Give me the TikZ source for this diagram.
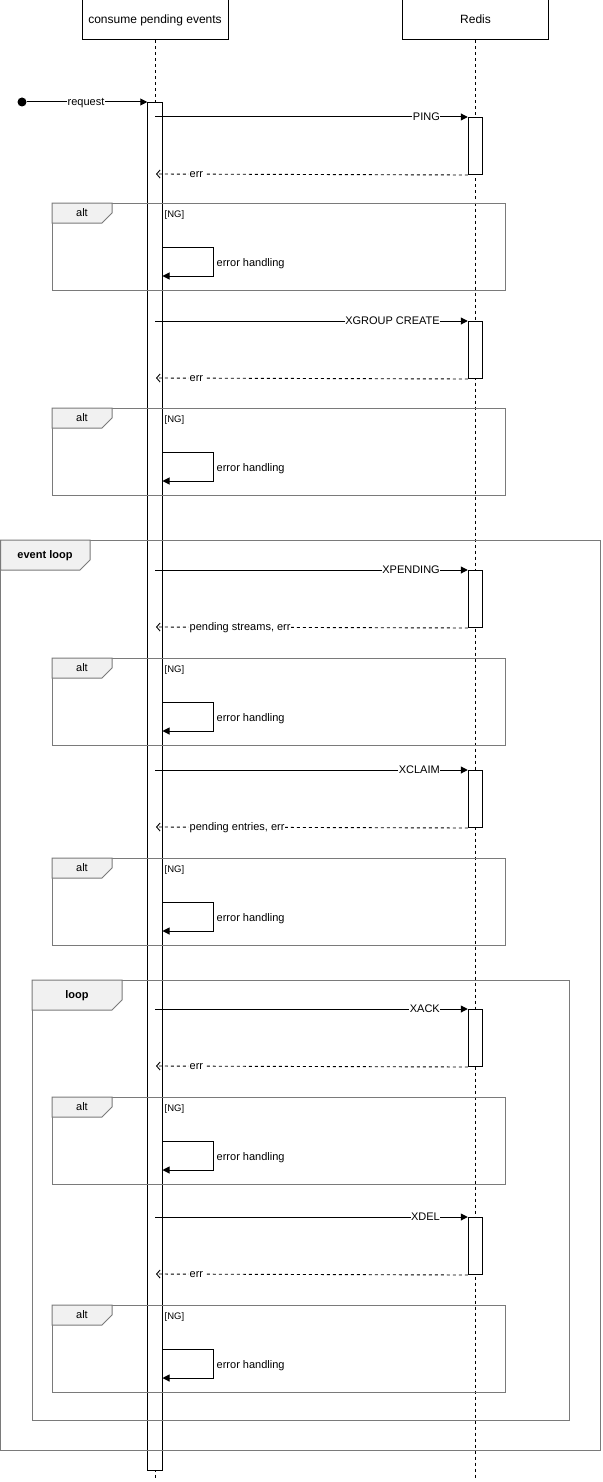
\documentclass[tikz,border=0pt]{standalone}
\usepackage{fontspec}
\setmainfont{Liberation Sans}
\usetikzlibrary{arrows.meta}
\definecolor{framegray}{HTML}{7A7A7A}
\definecolor{tabfill}{HTML}{F1F1F1}
\begin{document}
\begin{tikzpicture}[x=1pt,y=-1pt,
  hdr/.style={draw=black,line width=1pt,fill=white,minimum width=146pt,minimum height=40pt,inner sep=0pt,text height=8.7pt,text depth=1pt,font=\fontsize{12}{14}\selectfont},
  life/.style={draw=black,line width=0.9pt,dash pattern=on 3pt off 3pt},
  act/.style={draw=black,line width=1pt,fill=white,inner sep=0pt,minimum width=14.5pt},
  frame/.style={draw=framegray,line width=1pt},
  tab/.style={draw=framegray,fill=tabfill,line width=1pt},
  tablbl/.style={inner sep=0pt,text height=8pt,text depth=1pt,font=\fontsize{11}{13}\selectfont},
  tabbold/.style={inner sep=0pt,text height=8pt,text depth=1pt,font=\fontsize{11}{13}\selectfont\bfseries},
  msg/.style={draw=black,line width=1pt,-{Triangle[length=7pt,width=7pt]}},
  ret/.style={draw=black,line width=0.9pt,dash pattern=on 3pt off 3pt,-{Straight Barb[length=3.5pt,width=8pt]}},
  lbl/.style={fill=white,inner sep=0.5pt,text height=8pt,text depth=0.6pt,font=\fontsize{11}{13}\selectfont},
  ng/.style={inner sep=0pt,text height=7pt,text depth=1pt,font=\fontsize{9.5}{11}\selectfont},
  dot/.style={circle,fill=black,inner sep=0pt,minimum size=9pt}]
\useasboundingbox (0,0) rectangle (602,1482);
\fill[white] (0,0) rectangle (602,1482);

% participants and lifelines
\node[hdr] (cpe) at (155,20) {consume pending events};
\node[hdr] (redis) at (475.5,20) {Redis};
\coordinate (cpeEnd) at (155,1478);
\coordinate (redisEnd) at (475.5,1478);
\draw[life] (cpe.south) -- (cpeEnd);
\draw[life] (redis.south) -- (redisEnd);

% main activation
\node[act,minimum height=1368pt,anchor=north] (actA) at (155,102) {};

% redis activations
\foreach \i/\y in {1/117,2/321,3/570,4/770,5/1009,6/1217}{
  \node[act,minimum height=57pt,anchor=north] (r\i) at (475.5,\y) {};
}

% outer frames
\draw[frame] (0.5,540) rectangle (600,1450);
\draw[tab] (0.5,540) -- (90,540) -- (90,560) -- (80,570) -- (0.5,570) -- cycle;
\node[tabbold] (evl) at (45,555) {event loop};
\draw[frame] (32,980) rectangle (569,1420);
\draw[tab] (32,980) -- (122,980) -- (122,1000) -- (112,1010) -- (32,1010) -- cycle;
\node[tabbold] (lp) at (77,995) {loop};

% alt frames with self calls
\foreach \i/\a in {1/203,2/408,3/658,4/858,5/1097,6/1305}{
  \draw[frame] (52,\a) rectangle (505,\a+87);
  \draw[tab] (52,\a) -- (112,\a) -- (112,\a+10) -- (102,\a+20) -- (52,\a+20) -- cycle;
  \node[tablbl] (alt\i) at (82,\a+10) {alt};
  \node[ng,anchor=west] (ng\i) at (164.5,\a+11.5) {[NG]};
  \coordinate (sa\i) at (162.5,\a+44);
  \coordinate (sb\i) at (162.5,\a+73);
  \draw[msg] (sa\i) -| (213,\a+73) -- (sb\i);
  \node[lbl,anchor=west,fill=none] (eh\i) at (216,\a+59.5) {error handling};
}

% request
\node[dot] (start) at (22,102) {};
\draw[msg] (start) -- (actA.north west);
\node[lbl] (reql) at (86,102) {request};

% calls and returns
\foreach \i/\y/\lab/\rlab in {1/117/PING/err,2/321/XGROUP CREATE/err,3/570/XPENDING/{pending streams, err},4/770/XCLAIM/{pending entries, err},5/1009/XACK/err,6/1217/XDEL/err}{
  \coordinate (cs\i) at (155,\y);
  \coordinate (ce\i) at (156,\y+57);
  \draw[msg] (cs\i) -- (r\i.north west);
  \node[lbl,anchor=east] (cl\i) at (440.5,\y) {\lab};
  \draw[ret] (r\i.south west) -- (ce\i);
  \node[lbl,anchor=west] (rl\i) at (189,\y+57) {\rlab};
}
\end{tikzpicture}
\end{document}
